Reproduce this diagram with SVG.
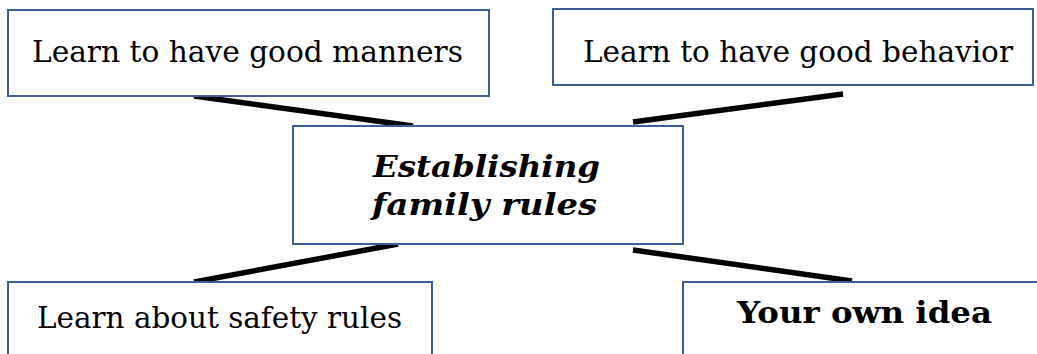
<svg xmlns="http://www.w3.org/2000/svg" width="1037" height="354" viewBox="0 0 1037 354">
  <style>
    .box { fill: #ffffff; stroke: #3d5f98; stroke-width: 2; }
    .lbl { font-family: "DejaVu Serif", "Liberation Serif", serif; font-size: 30px; fill: #000000; }
    .bold { font-weight: bold; }
    .title { font-weight: bold; font-style: italic; font-size: 29px; }
    .link { stroke: #000000; stroke-width: 5.5; stroke-linecap: butt; fill: none; }
  </style>
  <rect x="0" y="0" width="1037" height="354" fill="#ffffff"/>

  <g id="connectors">
    <line class="link" x1="194" y1="96" x2="413" y2="126"/>
    <line class="link" x1="633" y1="122" x2="843" y2="94"/>
    <line class="link" x1="194" y1="282" x2="398" y2="244"/>
    <line class="link" x1="633" y1="250" x2="852" y2="281"/>
  </g>

  <g id="node-manners">
    <rect class="box" x="8" y="10" width="481" height="86"/>
    <text class="lbl" x="32" y="62" textLength="431" lengthAdjust="spacingAndGlyphs">Learn to have good manners</text>
  </g>

  <g id="node-behavior">
    <rect class="box" x="553" y="9" width="480" height="76"/>
    <text class="lbl" x="583" y="62" textLength="430" lengthAdjust="spacingAndGlyphs">Learn to have good behavior</text>
  </g>

  <g id="node-center">
    <rect class="box" x="293" y="126" width="390" height="118"/>
    <text class="lbl title" x="373" y="177" textLength="227" lengthAdjust="spacingAndGlyphs">Establishing</text>
    <text class="lbl title" x="372" y="215" textLength="225" lengthAdjust="spacingAndGlyphs">family rules</text>
  </g>

  <g id="node-safety">
    <rect class="box" x="8" y="282" width="424" height="80"/>
    <text class="lbl" x="37" y="328" textLength="365" lengthAdjust="spacingAndGlyphs">Learn about safety rules</text>
  </g>

  <g id="node-own-idea">
    <rect class="box" x="683" y="282" width="360" height="80"/>
    <text class="lbl bold" x="737" y="323" textLength="255" lengthAdjust="spacingAndGlyphs">Your own idea</text>
  </g>
</svg>
